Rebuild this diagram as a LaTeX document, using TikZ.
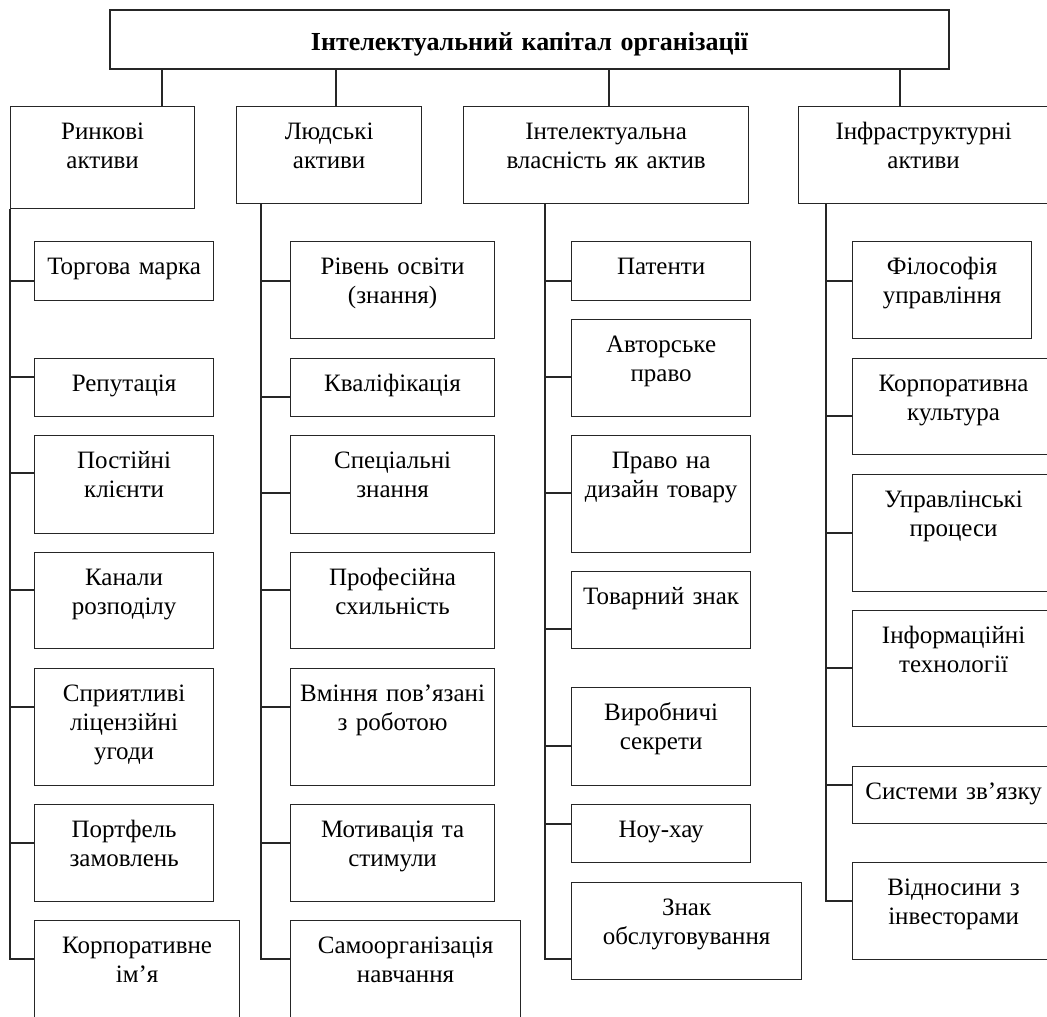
\documentclass[tikz,border=0pt]{standalone}
\usepackage{fontspec}
\setmainfont{Liberation Serif}
\usetikzlibrary{positioning}

\tikzset{
	cell/.style 2 args={draw=black!85, line width=0.6pt, anchor=north west, inner sep=0pt,
		align=center, text width=#1, text height=16.5pt, text depth=#2},
	link/.style={draw=black!85, line width=0.6pt}
}

\begin{document}
\begin{tikzpicture}[x=0.5pt,y=-0.5pt,font=\fontsize{12.5}{14.5}\selectfont]
\path[use as bounding box, clip] (0,0) rectangle (1047,1016);

% title
\node[draw=black!85, line width=1pt, anchor=north west, inner sep=0pt,
	text width=419.5pt, align=center, text height=20.5pt, text depth=9pt,
	font=\fontsize{13}{15}\selectfont\bfseries]
	(cap) at (109,9) {Інтелектуальний капітал організації};

% four groups
\node[cell={92pt}{34.5pt}]     (h1) at (10,106)    {Ринкові\\активи};
\node[cell={92.5pt}{32pt}]     (h2) at (236,106)   {Людські\\активи};
\node[cell={142.5pt}{32pt}]    (h3) at (463,106)   {Інтелектуальна\\власність як актив};
\node[cell={125pt}{32pt}]      (h4) at (798,106)   {Інфраструктурні\\активи};

\foreach \h/\dx in {h1/76pt,h2/50pt,h3/73pt,h4/51pt}
	\path[link] ([xshift=\dx]\h.north west) coordinate (t) -- (t |- cap.south);

% market assets
\node[cell={89.5pt}{13pt}]     (a1) at (34,241)    {Торгова марка};
\node[cell={89.5pt}{12.5pt}]   (a2) at (34,358)    {Репутація};
\node[cell={89.5pt}{32.5pt}]   (a3) at (34,435)    {Постійні\\клієнти};
\node[cell={89.5pt}{31.5pt}]   (a4) at (34,552)    {Канали\\розподілу};
\node[cell={89.5pt}{42pt}]     (a5) at (34,668)    {Сприятливі\\ліцензійні\\угоди};
\node[cell={89.5pt}{32pt}]     (a6) at (34,804)    {Портфель\\замовлень};
\node[cell={102.5pt}{33.5pt}]  (a7) at (34,920)    {Корпоративне\\ім’я};

% human assets
\node[cell={102pt}{32pt}]      (b1) at (290,241)   {Рівень освіти\\(знання)};
\node[cell={102pt}{12.5pt}]    (b2) at (290,358)   {Кваліфікація};
\node[cell={102pt}{32.5pt}]    (b3) at (290,435)   {Спеціальні\\знання};
\node[cell={102pt}{31.5pt}]    (b4) at (290,552)   {Професійна\\схильність};
\node[cell={102pt}{42pt}]      (b5) at (290,668)   {Вміння пов’язані\\з роботою};
\node[cell={102pt}{32pt}]      (b6) at (290,804)   {Мотивація та\\стимули};
\node[cell={115pt}{33.5pt}]    (b7) at (290,920)   {Самоорганізація\\навчання};

% intellectual property
\node[cell={89.5pt}{13pt}]     (c1) at (571,241)   {Патенти};
\node[cell={89.5pt}{32pt}]     (c2) at (571,319)   {Авторське\\право};
\node[cell={89.5pt}{42pt}]     (c3) at (571,435)   {Право на\\дизайн товару};
\node[cell={89.5pt}{22pt}]     (c4) at (571,571)   {Товарний знак};
\node[cell={89.5pt}{32.5pt}]   (c5) at (571,687)   {Виробничі\\секрети};
\node[cell={89.5pt}{12.5pt}]   (c6) at (571,804)   {Ноу-хау};
\node[cell={115pt}{32pt}]      (c7) at (571,882)   {Знак\\обслуговування};

% infrastructure assets
\node[cell={89.5pt}{32pt}]     (d1) at (852,241)   {Філософія\\управління};
\node[cell={101pt}{31.5pt}]    (d2) at (852,358)   {Корпоративна\\культура};
\node[cell={101pt}{42pt}]      (d3) at (852,474)   {Управлінські\\процеси};
\node[cell={101pt}{41.5pt}]    (d4) at (852,610)   {Інформаційні\\технології};
\node[cell={101pt}{12pt}]      (d5) at (852,766)   {Системи зв’язку};
\node[cell={101pt}{32pt}]      (d6) at (852,862)   {Відносини з\\інвесторами};

% spines
\coordinate (s1) at (h1.south west);
\coordinate (s2) at ([xshift=12.5pt]h2.south west);
\coordinate (s3) at ([xshift=41pt]h3.south west);
\coordinate (s4) at ([xshift=14pt]h4.south west);

\foreach \n/\d in {a1/20pt,a2/9.5pt,a3/19pt,a4/19pt,a5/19.5pt,a6/19.5pt,a7/19.5pt}
	\path[link] ([yshift=-\d]\n.north west) -| (s1);
\foreach \n/\d in {b1/20pt,b2/19.5pt,b3/29pt,b4/19pt,b5/19.5pt,b6/19.5pt,b7/19.5pt}
	\path[link] ([yshift=-\d]\n.north west) -| (s2);
\foreach \n/\d in {c1/20pt,c2/29pt,c3/29pt,c4/29pt,c5/29.5pt,c6/10pt,c7/38.5pt}
	\path[link] ([yshift=-\d]\n.north west) -| (s3);
\foreach \n/\d in {d1/20pt,d2/29pt,d3/29.5pt,d4/29pt,d5/9.5pt,d6/19.5pt}
	\path[link] ([yshift=-\d]\n.north west) -| (s4);

\end{tikzpicture}
\end{document}
